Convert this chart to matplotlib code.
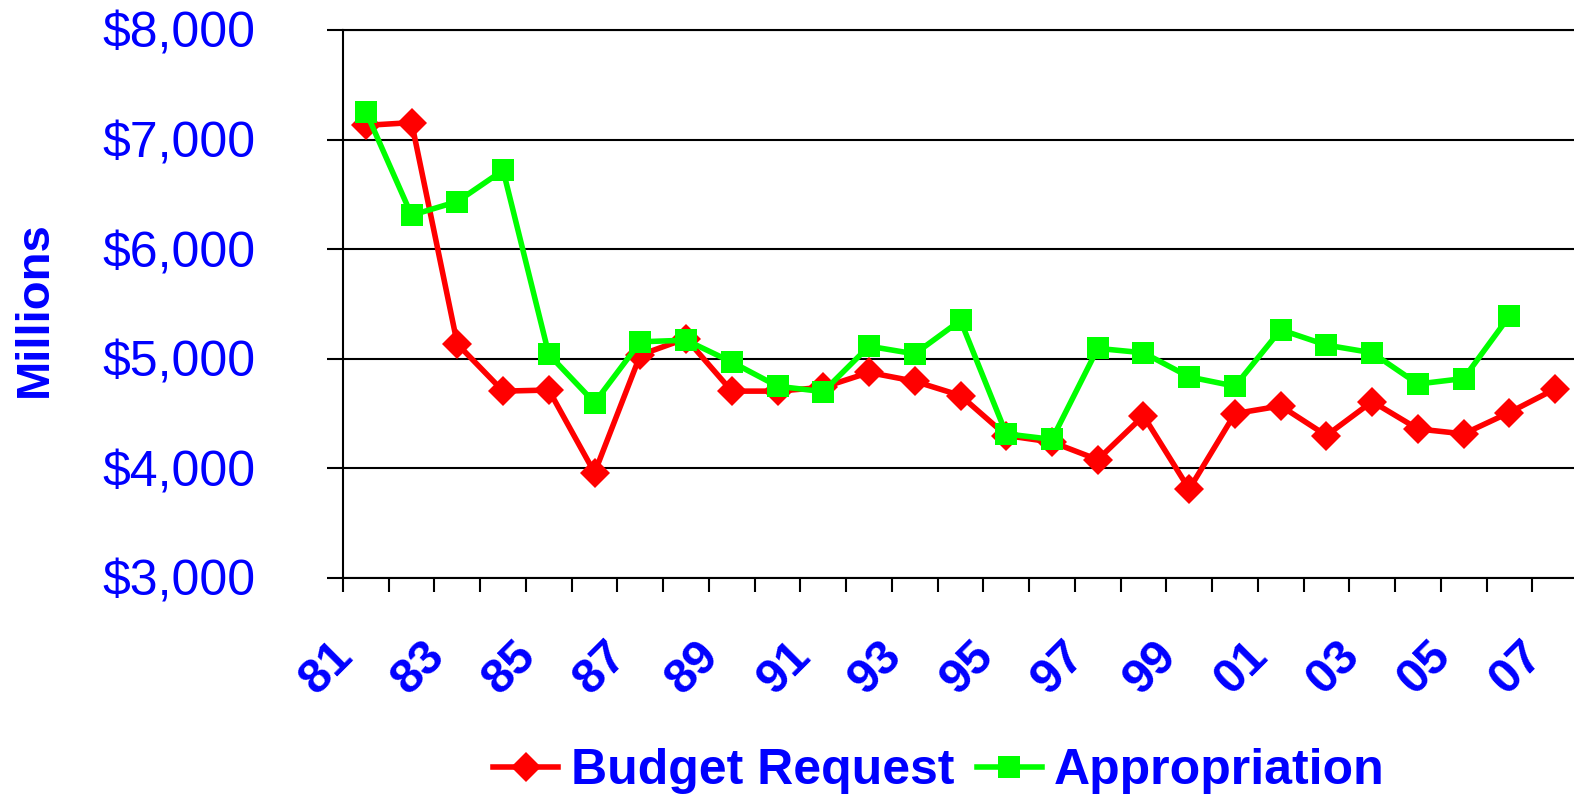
import matplotlib
matplotlib.use("Agg")
import matplotlib.pyplot as plt
from matplotlib.lines import Line2D
from matplotlib.transforms import ScaledTranslation

# fiscal years 81..07
years = ['81', '82', '83', '84', '85', '86', '87', '88', '89', '90', '91', '92', '93', '94',
         '95', '96', '97', '98', '99', '00', '01', '02', '03', '04', '05', '06', '07']
budget_request = [7130, 7155, 5135, 4705, 4715, 3960, 5035, 5185, 4705, 4705, 4740, 4875, 4795,
                  4665, 4300, 4240, 4080, 4480, 3810, 4500, 4570, 4300, 4610, 4360, 4315, 4510, 4725]
appropriation = [7255, 6310, 6435, 6720, 5040, 4600, 5155, 5170, 4970, 4750, 4700, 5115, 5045,
                 5350, 4315, 4265, 5095, 5055, 4835, 4750, 5265, 5125, 5055, 4770, 4820, 5390]
y_ticks = [3000, 4000, 5000, 6000, 7000, 8000]
y_labels = ['$3,000', '$4,000', '$5,000', '$6,000', '$7,000', '$8,000']

blue = '#0000FF'
red = '#FF0000'
green = '#00FF00'
plt.rcParams['font.family'] = ['Liberation Sans', 'DejaVu Sans']

fig = plt.figure(figsize=(15.74, 8), dpi=100)
ax = fig.add_axes([343 / 1574, 222 / 800, 1235 / 1574, 548 / 800])

x_red = list(range(len(budget_request)))
x_green = list(range(len(appropriation)))
ax.plot(x_red, budget_request, color=red, lw=4, marker='D', ms=15, mew=0, zorder=3)
ax.plot(x_green, appropriation, color=green, lw=4, marker='s', ms=16, mew=0, zorder=4)

ax.set_xlim(-0.5, len(years) - 0.5)
ax.set_ylim(3000, 8000)

# y axis
ax.set_yticks(y_ticks)
ax.set_yticklabels(y_labels, color=blue, fontsize=36)
ax.tick_params(axis='y', length=11.5, width=1.5, pad=51.5, color='black')
ax.grid(axis='y', color='black', lw=1.5)
ax.set_axisbelow(True)

# x axis: tick marks between categories, labels every other year
ax.set_xticks([i - 0.5 for i in range(len(years) + 1)], minor=True)
ax.set_xticks(x_red[::2])
ax.set_xticklabels(years[::2], color=blue, fontsize=35, fontweight='bold',
                   rotation=45, ha='right', va='center', rotation_mode='anchor')
ax.tick_params(axis='x', which='major', length=0, pad=51)
ax.tick_params(axis='x', which='minor', length=10, width=1.5, color='black')
shift = ScaledTranslation(-0.2, 0, fig.dpi_scale_trans)
for lab in ax.get_xticklabels():
    lab.set_transform(lab.get_transform() + shift)

for s in ['left', 'bottom', 'top']:
    ax.spines[s].set_color('black')
    ax.spines[s].set_linewidth(1.5)
ax.spines['right'].set_visible(False)

fig.text(34.5 / 1574, 0.614, 'Millions', rotation=90, color=blue, fontsize=34,
         fontweight='bold', ha='center', va='center')

handles = [Line2D([], [], color=red, lw=4, marker='D', ms=15, mew=0),
           Line2D([], [], color=green, lw=4, marker='s', ms=16, mew=0)]
leg = fig.legend(handles, ['Budget Request', 'Appropriation'], loc='center',
                 bbox_to_anchor=(0.5966, 0.036), ncol=2, frameon=False,
                 prop={'size': 36, 'weight': 'bold'}, handlelength=1.3,
                 handletextpad=0.25, columnspacing=0.45)
for t in leg.get_texts():
    t.set_color(blue)

fig.savefig('out.png', dpi=100)
